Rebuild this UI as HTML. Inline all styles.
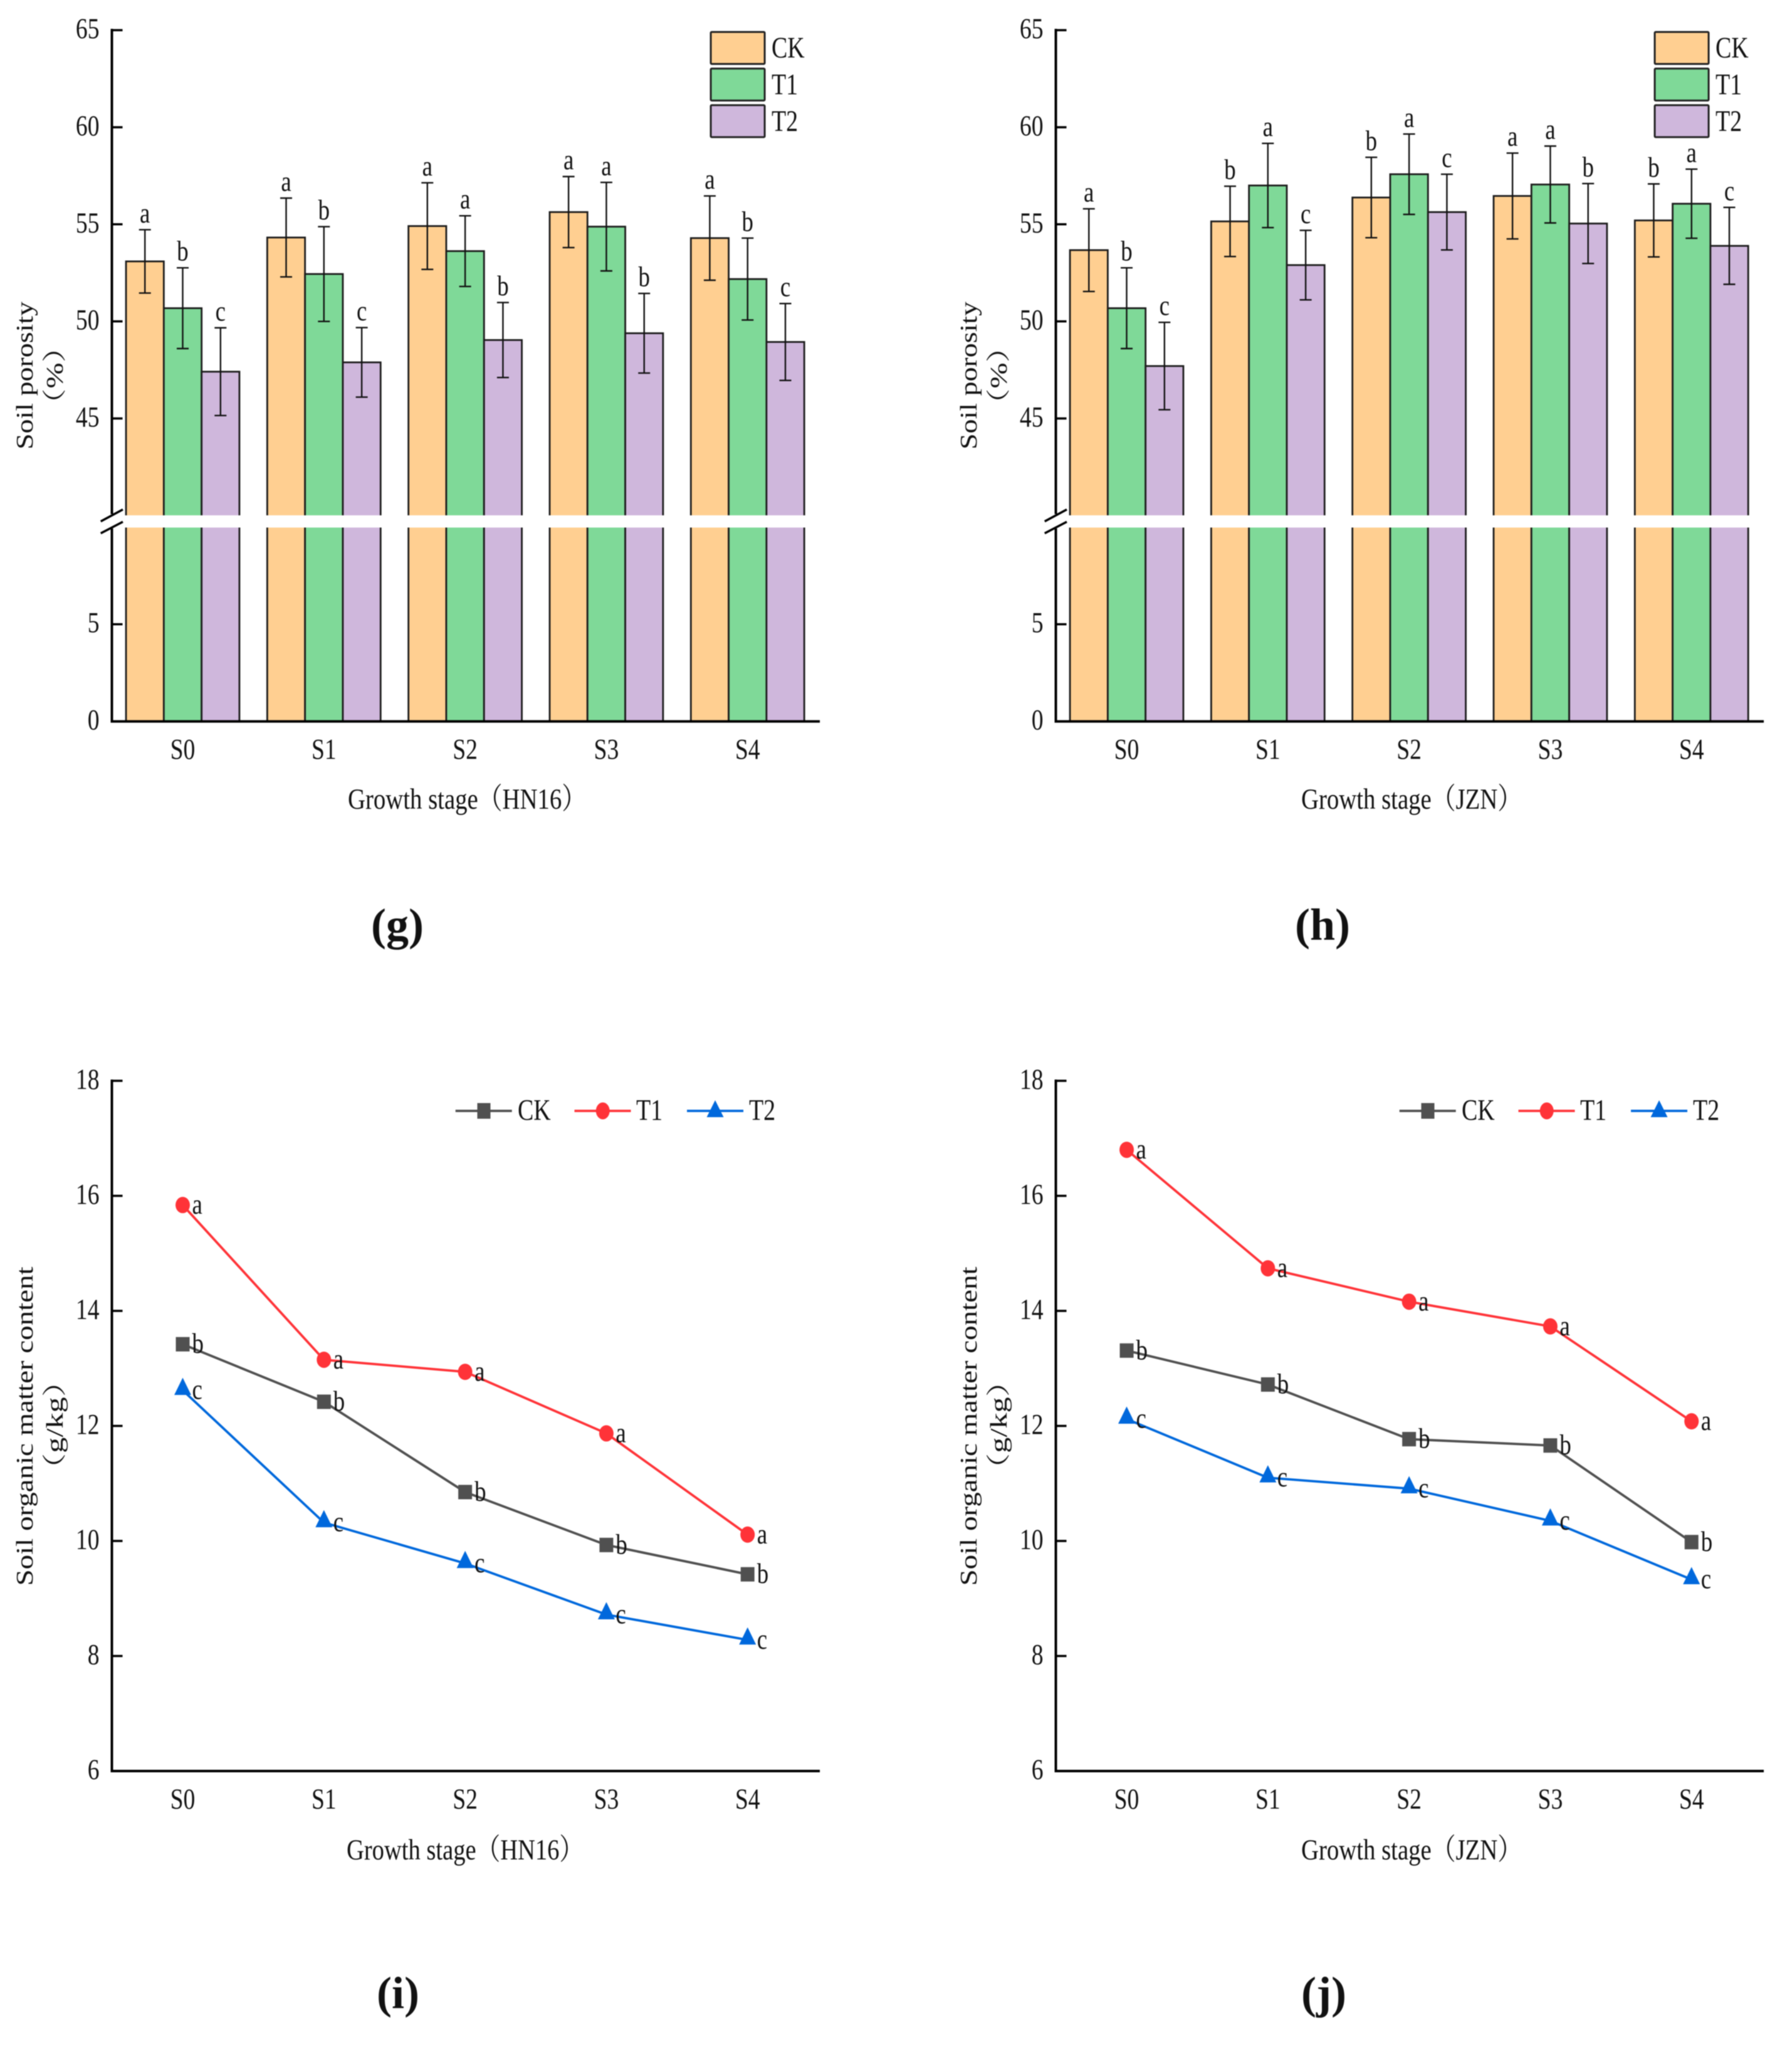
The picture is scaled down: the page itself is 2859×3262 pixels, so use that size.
<!DOCTYPE html>
<html lang="en">
<head>
<meta charset="utf-8">
<title>Soil porosity and organic matter by growth stage</title>
<style>
html,body{margin:0;padding:0;background:#fff;}
svg{display:block;filter:blur(0.7px);}
text{fill:#111;font-family:"Liberation Serif","Noto Serif CJK SC",serif;}
</style>
</head>
<body>
<svg id="figure" xmlns="http://www.w3.org/2000/svg" width="2859" height="3262" viewBox="0 0 2859 3262"></svg>
<script>
const stages = ['S0', 'S1', 'S2', 'S3', 'S4'];
const seriesNames = ['CK', 'T1', 'T2'];
const porosityUpperTicks = [45, 50, 55, 60, 65];
const porosityLowerTicks = [0, 5];
const organicTicks = [6, 8, 10, 12, 14, 16, 18];

const gCK = [53.09, 54.32, 54.91, 55.63, 54.29];
const gT1 = [50.68, 52.44, 53.62, 54.88, 52.18];
const gT2 = [47.41, 47.89, 49.04, 49.39, 48.94];
const gErrCK = [1.63, 2.03, 2.23, 1.83, 2.17];
const gErrT1 = [2.08, 2.44, 1.82, 2.28, 2.11];
const gErrT2 = [2.26, 1.79, 1.93, 2.05, 1.98];
const gSigCK = ['a', 'a', 'a', 'a', 'a'];
const gSigT1 = ['b', 'b', 'a', 'a', 'b'];
const gSigT2 = ['c', 'c', 'b', 'b', 'c'];

const hCK = [53.67, 55.15, 56.38, 56.46, 55.20];
const hT1 = [50.68, 57.00, 57.58, 57.05, 56.06];
const hT2 = [47.70, 52.90, 55.63, 55.04, 53.89];
const hErrCK = [2.13, 1.81, 2.07, 2.21, 1.88];
const hErrT1 = [2.08, 2.17, 2.07, 1.98, 1.78];
const hErrT2 = [2.25, 1.79, 1.95, 2.06, 1.98];
const hSigCK = ['a', 'b', 'b', 'a', 'b'];
const hSigT1 = ['b', 'a', 'a', 'a', 'a'];
const hSigT2 = ['c', 'c', 'c', 'b', 'c'];

const iCK = [13.42, 12.42, 10.85, 9.93, 9.42];
const iT1 = [15.84, 13.15, 12.94, 11.87, 10.11];
const iT2 = [12.62, 10.32, 9.61, 8.72, 8.28];
const jCK = [13.31, 12.72, 11.77, 11.66, 9.98];
const jT1 = [16.80, 14.74, 14.16, 13.73, 12.08];
const jT2 = [12.12, 11.10, 10.91, 10.35, 9.33];
const lineSigCK = ['b', 'b', 'b', 'b', 'b'];
const lineSigT1 = ['a', 'a', 'a', 'a', 'a'];
const lineSigT2 = ['c', 'c', 'c', 'c', 'c'];

const SVG_NS = 'http://www.w3.org/2000/svg';
const root = document.getElementById('figure');
const barFill = ['#FFCF91', '#7FD998', '#CFB7DC'];
const lineColor = ['#505050', '#FF3338', '#0068DC'];

function shape(parent, tag, attrs, name) {
  const el = document.createElementNS(SVG_NS, tag);
  for (const k in attrs) el.setAttribute(k, attrs[k]);
  
  
  parent.appendChild(el);
  return el;
}
function group(parent, name) {
  const el = document.createElementNS(SVG_NS, 'g');
  
  
  parent.appendChild(el);
  return el;
}
function label(parent, str, x, y, o, name) {
  const el = document.createElementNS(SVG_NS, 'text');
  el.textContent = str;
  el.setAttribute('font-size', o.size);
  el.setAttribute('text-anchor', o.anchor || 'start');
  if (o.weight) el.setAttribute('font-weight', o.weight);
  let t = 'translate(' + x + ',' + y + ')';
  if (o.rot) t += ' rotate(' + o.rot + ')';
  if (o.sx) t += ' scale(' + o.sx + ',1)';
  el.setAttribute('transform', t);
  if (o.len) {
    el.setAttribute('textLength', o.len);
    el.setAttribute('lengthAdjust', 'spacingAndGlyphs');
  }
  
  
  parent.appendChild(el);
  return el;
}

const PLOT_LEFT = 178.5, PLOT_RIGHT = 1308;
const BAR_W = 60.3;
function xCenter(i) { return 291.5 + i * 225.3; }
function yUpper(v) { return 48.1 + (65 - v) * 30.97; }
function yLower(v) { return 1150.7 - v * 31; }
function yOrganic(v) { return 1724 + (18 - v) * 91.75; }

function axisBase(g, dx, baseY) {
  shape(g, 'line', {x1: PLOT_LEFT + dx - 2, y1: baseY, x2: PLOT_RIGHT + dx, y2: baseY, stroke: '#000', 'stroke-width': 4}, 'x-axis-line');
  stages.forEach(function (s, i) {
    label(g, s, xCenter(i) + dx, baseY + 60, {size: 47, sx: 0.8, anchor: 'middle'}, 'x-tick-label');
  });
}
function yTick(g, v, y, dx) {
  if (v !== 0 && v !== 6) {
    shape(g, 'line', {x1: PLOT_LEFT + dx, y1: y, x2: PLOT_LEFT + dx + 17, y2: y, stroke: '#000', 'stroke-width': 3.5}, 'y-tick');
  }
  label(g, String(v), PLOT_LEFT + dx - 20, y + 13, {size: 47, sx: 0.8, anchor: 'end'}, 'y-tick-label');
}

function barPanel(id, dx, series, errs, sigs, title, titleLen, panelLetter, letterX) {
  const g = group(root, 'panel-' + id);
  const baseY = yLower(0);
  series.forEach(function (vals, s) {
    const sg = group(g, 'bars-' + seriesNames[s]);
    vals.forEach(function (v, i) {
      const left = xCenter(i) + dx - BAR_W * 1.5 + s * BAR_W;
      const top = yUpper(v);
      shape(sg, 'rect', {x: left, y: top, width: BAR_W, height: baseY - top, fill: barFill[s], stroke: '#1c1c1c', 'stroke-width': 2.8}, 'bar-' + seriesNames[s].toLowerCase() + '-' + stages[i].toLowerCase());
    });
  });
  shape(g, 'rect', {x: PLOT_LEFT + dx - 2, y: 822, width: PLOT_RIGHT - PLOT_LEFT + 4, height: 19.5, fill: '#fff'}, 'axis-break-band');
  series.forEach(function (vals, s) {
    vals.forEach(function (v, i) {
      const cx = xCenter(i) + dx - BAR_W + s * BAR_W;
      const hi = yUpper(v + errs[s][i]);
      const lo = yUpper(v - errs[s][i]);
      shape(g, 'line', {x1: cx, y1: hi, x2: cx, y2: lo, stroke: '#111', 'stroke-width': 2.4}, 'error-bar');
      shape(g, 'line', {x1: cx - 9.5, y1: hi, x2: cx + 9.5, y2: hi, stroke: '#111', 'stroke-width': 2.4}, 'error-cap-top');
      shape(g, 'line', {x1: cx - 9.5, y1: lo, x2: cx + 9.5, y2: lo, stroke: '#111', 'stroke-width': 2.4}, 'error-cap-bottom');
      label(g, sigs[s][i], cx, hi - 11.5, {size: 46, sx: 0.8, anchor: 'middle'}, 'significance-letter');
    });
  });
  shape(g, 'line', {x1: PLOT_LEFT + dx, y1: 46, x2: PLOT_LEFT + dx, y2: 820, stroke: '#000', 'stroke-width': 4}, 'y-axis-upper');
  shape(g, 'line', {x1: PLOT_LEFT + dx, y1: 843, x2: PLOT_LEFT + dx, y2: baseY, stroke: '#000', 'stroke-width': 4}, 'y-axis-lower');
  shape(g, 'line', {x1: 160.7 + dx, y1: 831.7, x2: 196 + dx, y2: 812.7, stroke: '#000', 'stroke-width': 3.5}, 'axis-break-mark');
  shape(g, 'line', {x1: 160.7 + dx, y1: 850.7, x2: 196 + dx, y2: 832.3, stroke: '#000', 'stroke-width': 3.5}, 'axis-break-mark');
  porosityUpperTicks.forEach(function (v) { yTick(g, v, yUpper(v), dx); });
  porosityLowerTicks.forEach(function (v) { yTick(g, v, yLower(v), dx); });
  axisBase(g, dx, baseY);
  label(g, 'Soil porosity', 52 + dx, 599, {size: 38, rot: -90, anchor: 'middle', len: 236}, 'y-axis-title');
  label(g, '（%）', 100 + dx, 599, {size: 38, rot: -90, anchor: 'middle', len: 140}, 'y-axis-unit');
  label(g, title, (dx ? 570 : 555) + dx, 1290, {size: 47, len: titleLen}, 'x-axis-title');
  seriesNames.forEach(function (n, s) {
    const entry = group(g, 'legend-entry-' + n.toLowerCase());
    const top = 51 + s * 58.4;
    shape(entry, 'rect', {x: 1134 + dx, y: top, width: 86, height: 51, rx: 1.5, fill: barFill[s], stroke: '#222', 'stroke-width': 3}, 'legend-swatch');
    label(entry, n, 1231 + dx, top + 41, {size: 48, sx: 0.79}, 'legend-label');
  });
  label(g, panelLetter, letterX, 1499, {size: 72, weight: 'bold', anchor: 'middle'}, 'panel-letter');
}

function marker(g, kind, x, y, color, name) {
  if (kind === 0) {
    shape(g, 'rect', {x: x - 11, y: y - 11.5, width: 22, height: 23, fill: color}, name);
  } else if (kind === 1) {
    shape(g, 'ellipse', {cx: x, cy: y, rx: 11.5, ry: 13, fill: color}, name);
  } else {
    shape(g, 'polygon', {points: (x) + ',' + (y - 20) + ' ' + (x + 13.5) + ',' + (y + 7.5) + ' ' + (x - 13.5) + ',' + (y + 7.5), fill: color}, name);
  }
}

function linePanel(id, dx, series, sigs, title, titleX, titleLen, panelLetter, letterX) {
  const g = group(root, 'panel-' + id);
  const baseY = yOrganic(6);
  shape(g, 'line', {x1: PLOT_LEFT + dx, y1: yOrganic(18) - 2, x2: PLOT_LEFT + dx, y2: baseY, stroke: '#000', 'stroke-width': 4}, 'y-axis-line');
  organicTicks.forEach(function (v) { yTick(g, v, yOrganic(v), dx); });
  axisBase(g, dx, baseY);
  series.forEach(function (vals, s) {
    const sg = group(g, 'series-' + seriesNames[s]);
    const pts = vals.map(function (v, i) { return (xCenter(i) + dx) + ',' + yOrganic(v); }).join(' ');
    shape(sg, 'polyline', {points: pts, fill: 'none', stroke: lineColor[s], 'stroke-width': 3.8}, 'line-' + seriesNames[s].toLowerCase());
    vals.forEach(function (v, i) {
      marker(sg, s, xCenter(i) + dx, yOrganic(v), lineColor[s], 'point-' + seriesNames[s].toLowerCase() + '-' + stages[i].toLowerCase());
      label(sg, sigs[s][i], xCenter(i) + dx + 15, yOrganic(v) + 14, {size: 46, sx: 0.8}, 'significance-letter');
    });
  });
  label(g, 'Soil organic matter content', 52 + dx, 2275, {size: 38, rot: -90, anchor: 'middle', len: 509}, 'y-axis-title');
  label(g, '（g/kg）', 100 + dx, 2273, {size: 38, rot: -90, anchor: 'middle', len: 190}, 'y-axis-unit');
  label(g, title, titleX, 2966, {size: 47, len: titleLen}, 'x-axis-title');

  const legendY = 1772;
  const lineStart = [726.7, 916.5, 1096];
  const textStart = [826, 1015, 1195];
  const markerX = [772, 961.7, 1141];
  seriesNames.forEach(function (n, s) {
    const entry = group(g, 'legend-entry-' + n.toLowerCase());
    shape(entry, 'line', {x1: lineStart[s] + dx, y1: legendY, x2: lineStart[s] + 90 + dx, y2: legendY, stroke: lineColor[s], 'stroke-width': 3.8}, 'legend-line');
    if (s === 0) {
      shape(entry, 'rect', {x: markerX[s] - 10.5 + dx, y: legendY - 12.5, width: 21, height: 25, fill: lineColor[s]}, 'legend-marker');
    } else if (s === 1) {
      shape(entry, 'ellipse', {cx: markerX[s] + dx, cy: legendY, rx: 11, ry: 13.5, fill: lineColor[s]}, 'legend-marker');
    } else {
      shape(entry, 'polygon', {points: (markerX[s] + dx) + ',1755 ' + (markerX[s] + 13.5 + dx) + ',1782 ' + (markerX[s] - 13.5 + dx) + ',1782', fill: lineColor[s]}, 'legend-marker');
    }
    label(entry, n, textStart[s] + dx, 1786.5, {size: 48, sx: 0.79}, 'legend-label');
  });
  label(g, panelLetter, letterX, 3203, {size: 72, weight: 'bold', anchor: 'middle'}, 'panel-letter');
}

barPanel('g', 0, [gCK, gT1, gT2], [gErrCK, gErrT1, gErrT2], [gSigCK, gSigT1, gSigT2], 'Growth stage（HN16）', 380, '(g)', 634);
barPanel('h', 1506, [hCK, hT1, hT2], [hErrCK, hErrT1, hErrT2], [hSigCK, hSigT1, hSigT2], 'Growth stage（JZN）', 352, '(h)', 2110);
linePanel('i', 0, [iCK, iT1, iT2], [lineSigCK, lineSigT1, lineSigT2], 'Growth stage（HN16）', 553, 378, '(i)', 635);
linePanel('j', 1506, [jCK, jT1, jT2], [lineSigCK, lineSigT1, lineSigT2], 'Growth stage（JZN）', 2076, 352, '(j)', 2112);
</script>
</body>
</html>
